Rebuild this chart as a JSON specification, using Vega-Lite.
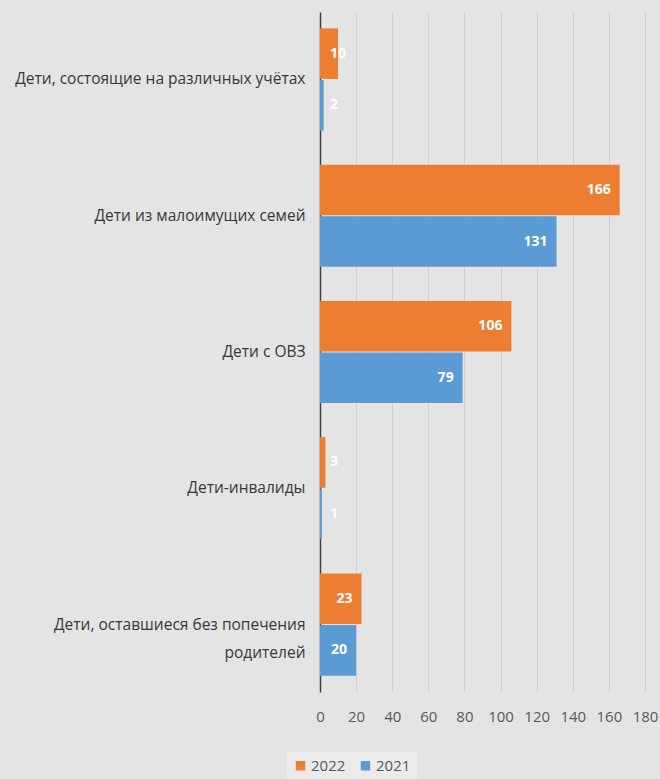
{
  "$schema": "https://vega.github.io/schema/vega-lite/v6.json",
  "width": 325,
  "height": 680,
  "autosize": {"type": "none"},
  "padding": {"left": 320, "top": 12, "right": 15, "bottom": 87},
  "background": "#e4e4e4",
  "config": {
    "font": "Open Sans",
    "view": {"stroke": null},
    "axis": {"labelFont": "Open Sans", "titleFont": "Open Sans"}
  },
  "resolve": {"axis": {"x": "independent"}},
  "data": {
    "values": [
      {"category": "Дети, состоящие на различных учётах", "year": "2022", "value": 10},
      {"category": "Дети, состоящие на различных учётах", "year": "2021", "value": 2},
      {"category": "Дети из малоимущих семей", "year": "2022", "value": 166},
      {"category": "Дети из малоимущих семей", "year": "2021", "value": 131},
      {"category": "Дети с ОВЗ", "year": "2022", "value": 106},
      {"category": "Дети с ОВЗ", "year": "2021", "value": 79},
      {"category": "Дети-инвалиды", "year": "2022", "value": 3},
      {"category": "Дети-инвалиды", "year": "2021", "value": 1},
      {"category": "Дети, оставшиеся без попечения родителей", "year": "2022", "value": 23},
      {"category": "Дети, оставшиеся без попечения родителей", "year": "2021", "value": 20}
    ]
  },
  "encoding": {
    "y": {
      "field": "category",
      "type": "nominal",
      "sort": null,
      "scale": {"paddingInner": 0.25, "paddingOuter": 0.12},
      "axis": {
        "title": null,
        "ticks": false,
        "domain": true,
        "domainColor": "#404040",
        "domainWidth": 1.5,
        "labelFontSize": 15.5,
        "labelColor": "#383838",
        "labelPadding": 15,
        "labelLimit": 400,
        "labelLineHeight": 28,
        "labelExpr": "datum.value == 'Дети, оставшиеся без попечения родителей' ? ['Дети, оставшиеся без попечения', 'родителей'] : datum.value"
      }
    },
    "yOffset": {
      "field": "year",
      "type": "nominal",
      "sort": ["2022", "2021"],
      "scale": {"paddingInner": 0.02}
    }
  },
  "layer": [
    {
      "mark": {"type": "bar"},
      "encoding": {
        "x": {
          "field": "value",
          "type": "quantitative",
          "scale": {"domain": [0, 180], "nice": false},
          "axis": {
            "title": null,
            "values": [0, 20, 40, 60, 80, 100, 120, 140, 160, 180],
            "domain": false,
            "ticks": false,
            "grid": true,
            "gridColor": "#cfcfcf",
            "gridWidth": 1,
            "labelFontSize": 15,
            "labelColor": "#595959",
            "labelPadding": 17,
            "labelFlush": false,
            "labelOverlap": false,
            "labelBound": false
          }
        },
        "color": {
          "field": "year",
          "type": "nominal",
          "scale": {"domain": ["2022", "2021"], "range": ["#ED7D31", "#5B9BD5"]},
          "legend": {
            "title": null,
            "orient": "none",
            "legendX": -33,
            "legendY": 740,
            "direction": "horizontal",
            "symbolType": "square",
            "symbolSize": 90,
            "symbolStrokeWidth": 0,
            "labelFontSize": 15,
            "labelColor": "#595959",
            "columnPadding": 12,
            "labelOffset": 3,
            "fillColor": "#ebebeb",
            "padding": 6
          }
        }
      }
    },
    {
      "transform": [{"filter": "datum.value >= 15"}],
      "mark": {"type": "text", "align": "right", "dx": -9, "fontWeight": "bold", "fontSize": 14, "color": "white"},
      "encoding": {
        "x": {"field": "value", "type": "quantitative", "axis": null},
        "text": {"field": "value", "type": "quantitative"}
      }
    },
    {
      "transform": [{"filter": "datum.value < 15"}],
      "mark": {"type": "text", "align": "left", "dx": 10, "fontWeight": "bold", "fontSize": 14, "color": "white"},
      "encoding": {
        "x": {"datum": 0, "type": "quantitative", "axis": null},
        "text": {"field": "value", "type": "quantitative"}
      }
    }
  ]
}
